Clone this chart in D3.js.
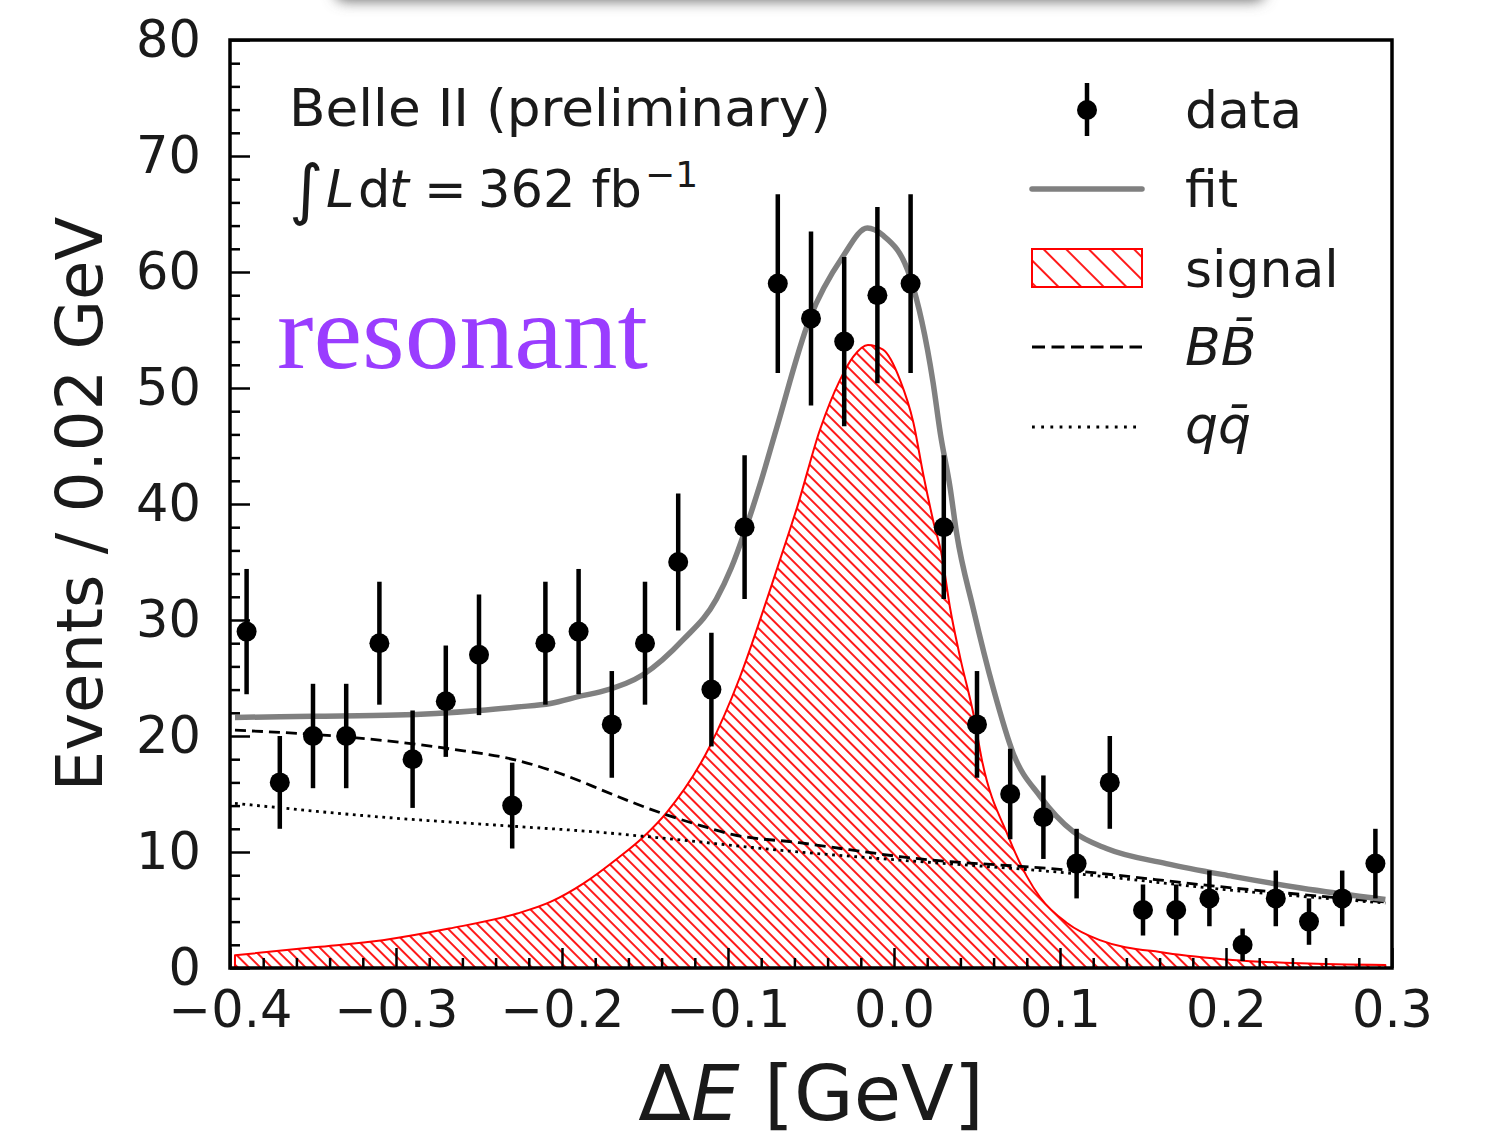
<!DOCTYPE html>
<html>
<head>
<meta charset="utf-8">
<script src="https://cdn.jsdelivr.net/npm/d3@7"></script>
<style>
  html, body { margin: 0; padding: 0; background: #fff; }
  svg { display: block; }
</style>
</head>
<body>
<svg id="chart" width="1486" height="1138"></svg>
<script>
// ---------------- data ----------------
const binCenters = [-0.39,-0.37,-0.35,-0.33,-0.31,-0.29,-0.27,-0.25,-0.23,-0.21,-0.19,-0.17,-0.15,-0.13,-0.11,-0.09,-0.07,-0.05,-0.03,-0.01,
                    0.01,0.03,0.05,0.07,0.09,0.11,0.13,0.15,0.17,0.19,0.21,0.23,0.25,0.27,0.29];
const counts = [29,16,20,20,28,18,23,27,14,28,29,21,28,35,24,38,59,56,54,58,
                59,38,21,15,13,9,16,5,5,6,2,6,4,6,9];
const errs = [5.4,4.0,4.5,4.5,5.3,4.2,4.8,5.2,3.7,5.3,5.4,4.6,5.3,5.9,4.9,6.2,7.7,7.5,7.3,7.6,
              7.7,6.2,4.6,3.9,3.6,3.0,4.0,2.2,2.2,2.4,1.4,2.4,2.0,2.4,3.0];

const fitX = [-0.397,-0.35,-0.30,-0.25,-0.227,-0.207,-0.187,-0.177,-0.151,-0.127,-0.107,-0.098,-0.09,-0.08,-0.071,-0.051,-0.031,-0.016,-0.007,
              0.0096,0.0235,0.028,0.0337,0.0377,0.0477,0.06,0.0718,0.088,0.108,0.128,0.164,0.204,0.245,0.296];
const fitY = [21.6,21.7,21.8,22.2,22.5,22.8,23.5,23.8,25.3,28.3,31.8,34.5,37.6,42.0,46.4,55.9,61.3,63.8,63.2,
              59.6,50.5,46.0,41.5,37.5,31.0,24.0,18.5,14.8,11.75,10.3,9.0,7.9,6.9,5.9];

const sigX = [-0.397,-0.348,-0.308,-0.268,-0.227,-0.207,-0.187,-0.167,-0.151,-0.137,-0.111,-0.093,-0.0765,-0.0645,-0.0586,-0.0446,-0.0325,-0.0245,-0.0157,-0.0066,
              0.0036,0.0117,0.0177,0.0237,0.0289,0.0337,0.0398,0.0477,0.053,0.0687,0.08,0.088,0.104,0.124,0.164,0.204,0.245,0.296];
const sigY = [1.1,1.8,2.4,3.4,4.7,5.7,7.3,9.4,11.3,13.4,19.1,25.0,31.8,37.0,39.6,46.4,50.7,52.7,53.7,53.3,
              50.7,47.0,42.5,38.5,35.5,31.1,26.8,22.0,17.9,11.4,7.9,6.1,3.9,2.4,1.3,0.7,0.4,0.25];

const bbX = [-0.397,-0.328,-0.268,-0.227,-0.187,-0.177,-0.137,-0.117,-0.097,-0.057,-0.027,0.0036,0.104,0.204,0.296];
const bbY = [20.5,19.9,18.9,17.9,16.0,15.4,13.2,12.3,11.5,10.8,10.2,9.6,8.45,6.9,5.7];

const qqX = [-0.397,-0.308,-0.227,-0.177,-0.147,-0.057,0.0036,0.104,0.204,0.296];
const qqY = [14.2,13.0,12.2,11.7,11.3,10.0,9.3,8.2,6.7,5.6];

const xMajorTicks = [-0.4,-0.3,-0.2,-0.1,0.0,0.1,0.2,0.3];
const yMajorTicks = [0,10,20,30,40,50,60,70,80];
const legendLabels = ["data","fit","signal","BB\u0304","qq\u0304"];

// ---------------- layout ----------------
const svg = d3.select("#chart");
const L = 230, R = 1392, T = 40, B = 968;
const x = d3.scaleLinear().domain([-0.4, 0.3]).range([L, R]);
const y = d3.scaleLinear().domain([0, 80]).range([B, T]);
const FONT = "'DejaVu Sans', sans-serif";
const RED = "#ff0000", GRAY = "#808080";

const defs = svg.append("defs");
const hatch = defs.append("pattern").attr("id","hatch").attr("patternUnits","userSpaceOnUse")
  .attr("width",8).attr("height",8).attr("patternTransform","rotate(45)");
hatch.append("line").attr("x1",-1).attr("y1",4).attr("x2",9).attr("y2",4)
  .attr("stroke",RED).attr("stroke-width",1.8);
const hatchL = defs.append("pattern").attr("id","hatchL").attr("patternUnits","userSpaceOnUse")
  .attr("width",16).attr("height",16).attr("patternTransform","translate(1032,249) rotate(45)");
hatchL.append("line").attr("x1",-1).attr("y1",8).attr("x2",17).attr("y2",8)
  .attr("stroke",RED).attr("stroke-width",1.8);
const blur = defs.append("filter").attr("id","blur").attr("x","-20%").attr("y","-200%").attr("width","140%").attr("height","500%");
blur.append("feGaussianBlur").attr("stdDeviation",7);
defs.append("clipPath").attr("id","plotclip").append("rect")
  .attr("x",L).attr("y",T).attr("width",R-L).attr("height",B-T);

// top shadow artifact
svg.append("rect").attr("x",335).attr("y",-26).attr("width",930).attr("height",27)
  .attr("rx",10).attr("fill","#6e6e6e").attr("filter","url(#blur)");

const plot = svg.append("g").attr("clip-path","url(#plotclip)");

// signal
const sigData = sigX.map((v,i)=>[v,sigY[i]]);
const area = d3.area().x(d=>x(d[0])).y0(y(0)).y1(d=>y(d[1])).curve(d3.curveMonotoneX);
plot.append("path").datum(sigData).attr("d",area).attr("fill","url(#hatch)")
  .attr("stroke",RED).attr("stroke-width",2).attr("stroke-linejoin","round");

const line = d3.line().x(d=>x(d[0])).y(d=>y(d[1])).curve(d3.curveMonotoneX);
// q qbar dotted
plot.append("path").datum(qqX.map((v,i)=>[v,qqY[i]])).attr("d",line)
  .attr("fill","none").attr("stroke","#000").attr("stroke-width",2.8).attr("stroke-dasharray","2.8,4.6");
// B Bbar dashed
plot.append("path").datum(bbX.map((v,i)=>[v,bbY[i]])).attr("d",line)
  .attr("fill","none").attr("stroke","#000").attr("stroke-width",2.8).attr("stroke-dasharray","11,6");
// fit
plot.append("path").datum(fitX.map((v,i)=>[v,fitY[i]])).attr("d",line)
  .attr("fill","none").attr("stroke",GRAY).attr("stroke-width",5.5).attr("stroke-linejoin","round");

// data
const pts = binCenters.map((v,i)=>({x:v, n:counts[i], e:errs[i]}));
const dg = svg.append("g");
dg.selectAll("line.err").data(pts).join("line").attr("class","err")
  .attr("x1",d=>x(d.x)).attr("x2",d=>x(d.x))
  .attr("y1",d=>y(Math.max(0,d.n-d.e))).attr("y2",d=>y(d.n+d.e))
  .attr("stroke","#000").attr("stroke-width",4.5);
dg.selectAll("circle").data(pts).join("circle")
  .attr("cx",d=>x(d.x)).attr("cy",d=>y(d.n)).attr("r",10).attr("fill","#000");

// axes with inward ticks
function styleAxis(g){
  g.select(".domain").remove();
  g.selectAll(".tick line").attr("stroke","#000").attr("stroke-width",2.5);
  g.selectAll(".tick text").attr("fill","#1a1a1a").style("font-family",FONT).style("font-size","51px");
}
const yMinor = d3.range(0,81,2).filter(v=>!yMajorTicks.includes(v));
const xMinor = d3.range(-40,31,2).map(v=>v/100).filter(v=>!xMajorTicks.some(t=>Math.abs(t-v)<1e-9));
svg.append("g").attr("transform",`translate(${L},0)`)
  .call(d3.axisLeft(y).tickValues(yMinor).tickSize(-10).tickFormat(""))
  .call(styleAxis);
svg.append("g").attr("transform",`translate(${L},0)`)
  .call(d3.axisLeft(y).tickValues(yMajorTicks).tickSize(-20).tickPadding(29).tickFormat(d3.format("d")))
  .call(styleAxis);
svg.append("g").attr("transform",`translate(0,${B})`)
  .call(d3.axisBottom(x).tickValues(xMinor).tickSize(-10).tickFormat(""))
  .call(styleAxis);
svg.append("g").attr("transform",`translate(0,${B})`)
  .call(d3.axisBottom(x).tickValues(xMajorTicks).tickSize(-20).tickPadding(23).tickFormat(d3.format(".1f")))
  .call(styleAxis);

// frame
svg.append("rect").attr("x",L).attr("y",T).attr("width",R-L).attr("height",B-T)
  .attr("fill","none").attr("stroke","#000").attr("stroke-width",3.5);

// axis labels
svg.append("text").attr("transform",`translate(102,${(T+B)/2}) rotate(-90)`)
  .attr("text-anchor","middle").style("font-family",FONT).style("font-size","64px").attr("fill","#1a1a1a")
  .text("Events / 0.02 GeV");
const xl = svg.append("text").attr("x",(L+R)/2).attr("y",1120).attr("text-anchor","middle")
  .style("font-family",FONT).style("font-size","77px").attr("fill","#1a1a1a");
xl.append("tspan").text("\u0394");
xl.append("tspan").style("font-style","italic").text("E");
xl.append("tspan").text(" [GeV]");

// annotation text
const ann = svg.append("g").style("font-family",FONT).attr("fill","#1a1a1a");
ann.append("text").attr("x",289).attr("y",126).style("font-size","52px")
  .attr("textLength",542).attr("lengthAdjust","spacingAndGlyphs").text("Belle II (preliminary)");
ann.append("text").attr("x",289).attr("y",212).style("font-size","66px").text("\u222B");
ann.append("text").attr("x",326).attr("y",207).style("font-size","51px").style("font-style","italic").text("L");
ann.append("text").attr("x",358).attr("y",207).style("font-size","51px").text("d");
ann.append("text").attr("x",389).attr("y",207).style("font-size","51px").style("font-style","italic").text("t");
ann.append("text").attr("x",424).attr("y",207).style("font-size","51px").text("=");
ann.append("text").attr("x",478).attr("y",207).style("font-size","51px").text("362 fb");
ann.append("text").attr("x",645).attr("y",187).style("font-size","36px").text("\u22121");

svg.append("text").attr("x",277).attr("y",368).attr("textLength",371).attr("lengthAdjust","spacingAndGlyphs")
  .style("font-family","'Liberation Serif', serif").style("font-size","105px").attr("fill","#9a3dff")
  .text("resonant");

// legend
const lg = svg.append("g");
const rowsY = [110,189,268,347,427];
const textY = [128,207,287,365,443];
const lx0 = 1032, lx1 = 1142;
lg.append("line").attr("x1",1087).attr("x2",1087).attr("y1",83).attr("y2",136).attr("stroke","#000").attr("stroke-width",4.5);
lg.append("circle").attr("cx",1087).attr("cy",rowsY[0]).attr("r",10).attr("fill","#000");
lg.append("line").attr("x1",lx0).attr("x2",lx1).attr("y1",rowsY[1]).attr("y2",rowsY[1])
  .attr("stroke",GRAY).attr("stroke-width",5.5).attr("stroke-linecap","round");
lg.append("rect").attr("x",lx0).attr("y",249).attr("width",lx1-lx0).attr("height",38)
  .attr("fill","url(#hatchL)").attr("stroke",RED).attr("stroke-width",2);
lg.append("line").attr("x1",lx0).attr("x2",lx1).attr("y1",rowsY[3]).attr("y2",rowsY[3])
  .attr("stroke","#000").attr("stroke-width",2.8).attr("stroke-dasharray","13,6.5");
lg.append("line").attr("x1",lx0).attr("x2",lx1).attr("y1",rowsY[4]).attr("y2",rowsY[4])
  .attr("stroke","#000").attr("stroke-width",2.8).attr("stroke-dasharray","2.8,6.4");
lg.selectAll("text").data(legendLabels).join("text")
  .attr("x",1185).attr("y",(d,i)=>textY[i])
  .style("font-family",FONT).style("font-size","52px").attr("fill","#1a1a1a")
  .style("font-style",(d,i)=>i>=3?"italic":"normal")
  .text(d=>d);
</script>
</body>
</html>
